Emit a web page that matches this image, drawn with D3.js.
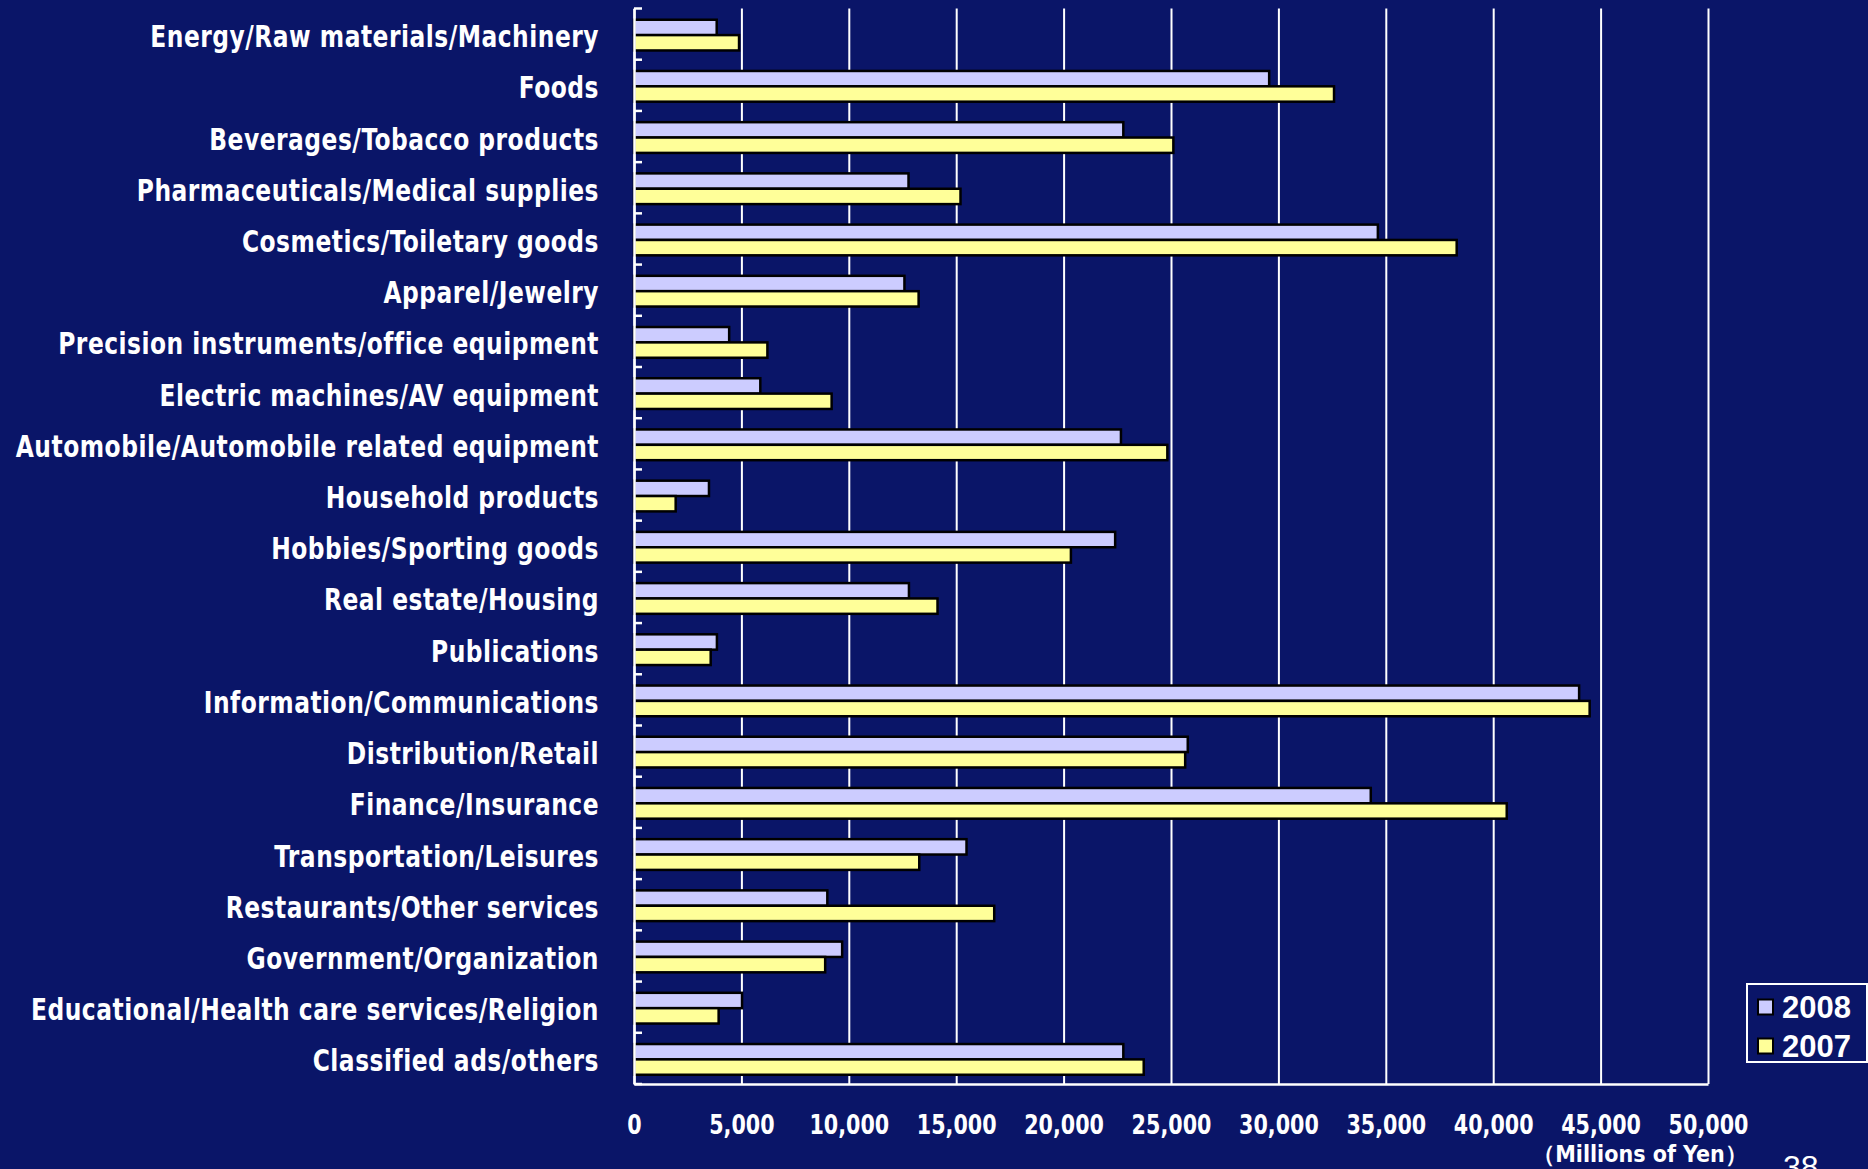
<!DOCTYPE html>
<html>
<head>
<meta charset="utf-8">
<script src="https://cdn.jsdelivr.net/npm/d3@7"></script>
<style>
  html, body { margin: 0; padding: 0; background: #0a1568; }
  svg { display: block; }
</style>
</head>
<body>
<svg id="chart" width="1868" height="1169"></svg>
<script>
// Advertising expenditure by industry (millions of yen)
const categories = [
  "Energy/Raw materials/Machinery",
  "Foods",
  "Beverages/Tobacco products",
  "Pharmaceuticals/Medical supplies",
  "Cosmetics/Toiletary goods",
  "Apparel/Jewelry",
  "Precision instruments/office equipment",
  "Electric machines/AV equipment",
  "Automobile/Automobile related equipment",
  "Household products",
  "Hobbies/Sporting goods",
  "Real estate/Housing",
  "Publications",
  "Information/Communications",
  "Distribution/Retail",
  "Finance/Insurance",
  "Transportation/Leisures",
  "Restaurants/Other services",
  "Government/Organization",
  "Educational/Health care services/Religion",
  "Classified ads/others"
];
const values2008 = [3850, 29570, 22780, 12780, 34630, 12590, 4430, 5880, 22670, 3490,
                    22400, 12800, 3860, 44000, 25780, 34300, 15480, 9000, 9690, 5030, 22780];
const values2007 = [4890, 32590, 25110, 15200, 38300, 13250, 6210, 9200, 24830, 1940,
                    20340, 14130, 3570, 44490, 25660, 40630, 13280, 16770, 8900, 3940, 23730];
const seriesNames = ["2008", "2007"];
const seriesColors = ["#ccccff", "#ffff99"];
const xTicks = [0, 5000, 10000, 15000, 20000, 25000, 30000, 35000, 40000, 45000, 50000];
const unitLabel = "（Millions of Yen）";
const pageNumber = "38";

const svg = d3.select("#chart");
const W = 1868, H = 1169;
const plot = { left: 634, right: 1708, top: 8.5, bottom: 1084 };
const labelFont = "'DejaVu Sans Condensed', 'DejaVu Sans', sans-serif";

svg.append("rect").attr("width", W).attr("height", H).attr("fill", "#0a1568");

const x = d3.scaleLinear().domain([0, 50000]).range([plot.left, plot.right]);
const y = d3.scaleBand().domain(categories).range([plot.top, plot.bottom]);
const inner = d3.scaleBand().domain(seriesNames).range([0, y.bandwidth()])
  .paddingInner(0).paddingOuter(0.667);

// Vertical gridlines + value axis
const xAxis = svg.append("g")
  .attr("transform", `translate(0,${plot.bottom})`)
  .call(d3.axisBottom(x)
    .tickValues(xTicks)
    .tickFormat(d3.format(","))
    .tickSizeInner(-(plot.bottom - plot.top))
    .tickSizeOuter(0)
    .tickPadding(28));
xAxis.select(".domain").attr("stroke", "#ffffff").attr("stroke-width", 2.5);
xAxis.selectAll(".tick line").attr("stroke", "#ffffff").attr("stroke-width", 2);
xAxis.selectAll(".tick text")
  .attr("fill", "#ffffff")
  .attr("font-family", labelFont)
  .attr("font-weight", "bold")
  .attr("font-size", 23)
  .attr("transform", "scale(1,1.12)");

// Bars
const rows = categories.map((c, i) => ({ c, vals: [values2008[i], values2007[i]] }));
const groups = svg.append("g").selectAll("g").data(rows).join("g")
  .attr("transform", d => `translate(0,${y(d.c) + 1})`);
groups.selectAll("rect")
  .data(d => d.vals.map((v, k) => ({ v, k })))
  .join("rect")
  .attr("x", x(0))
  .attr("y", d => inner(seriesNames[d.k]))
  .attr("width", d => x(d.v) - x(0))
  .attr("height", inner.bandwidth())
  .attr("fill", d => seriesColors[d.k])
  .attr("stroke", "#000000")
  .attr("stroke-width", 2.5);

// Category axis
const yAxis = svg.append("g")
  .attr("transform", `translate(${plot.left},0)`)
  .call(d3.axisLeft(y).tickSize(0).tickPadding(35));
yAxis.select(".domain").attr("stroke", "#ffffff").attr("stroke-width", 2.5);
yAxis.selectAll(".tick text")
  .attr("fill", "#ffffff")
  .attr("font-family", labelFont)
  .attr("font-weight", "bold")
  .attr("font-size", 26)
  .attr("letter-spacing", 0.5)
  .attr("transform", "translate(0,3.5) scale(1,1.14)");

// Category boundary ticks (inside the plot)
const bounds = d3.range(categories.length + 1).map(i => plot.top + i * y.step());
svg.append("g").selectAll("line").data(bounds).join("line")
  .attr("x1", plot.left).attr("x2", plot.left + 8)
  .attr("y1", d => d).attr("y2", d => d)
  .attr("stroke", "#ffffff").attr("stroke-width", 2.5);

// Unit label and page number
svg.append("text")
  .attr("x", 1640).attr("y", 1162)
  .attr("text-anchor", "middle")
  .attr("fill", "#ffffff")
  .attr("font-family", labelFont)
  .attr("font-weight", "bold")
  .attr("font-size", 23)
  .text(unitLabel);
svg.append("text")
  .attr("x", 1783).attr("y", 1178)
  .attr("fill", "#ffffff")
  .attr("font-family", "'Liberation Sans', Arial, sans-serif")
  .attr("font-size", 32)
  .text(pageNumber);

// Legend
const legend = svg.append("g").attr("transform", "translate(1747,984)");
legend.append("rect")
  .attr("width", 120).attr("height", 78)
  .attr("fill", "#0a1568")
  .attr("stroke", "#ffffff").attr("stroke-width", 2);
seriesNames.forEach((name, k) => {
  const cy = 23 + k * 39;
  legend.append("rect")
    .attr("x", 11).attr("y", cy - 7.5)
    .attr("width", 15).attr("height", 15)
    .attr("fill", seriesColors[k])
    .attr("stroke", "#000000").attr("stroke-width", 2);
  legend.append("text")
    .attr("x", 35).attr("y", cy + 11)
    .attr("fill", "#ffffff")
    .attr("font-family", "'Liberation Sans', Arial, sans-serif")
    .attr("font-weight", "bold")
    .attr("font-size", 31)
    .text(name);
});
</script>
</body>
</html>
